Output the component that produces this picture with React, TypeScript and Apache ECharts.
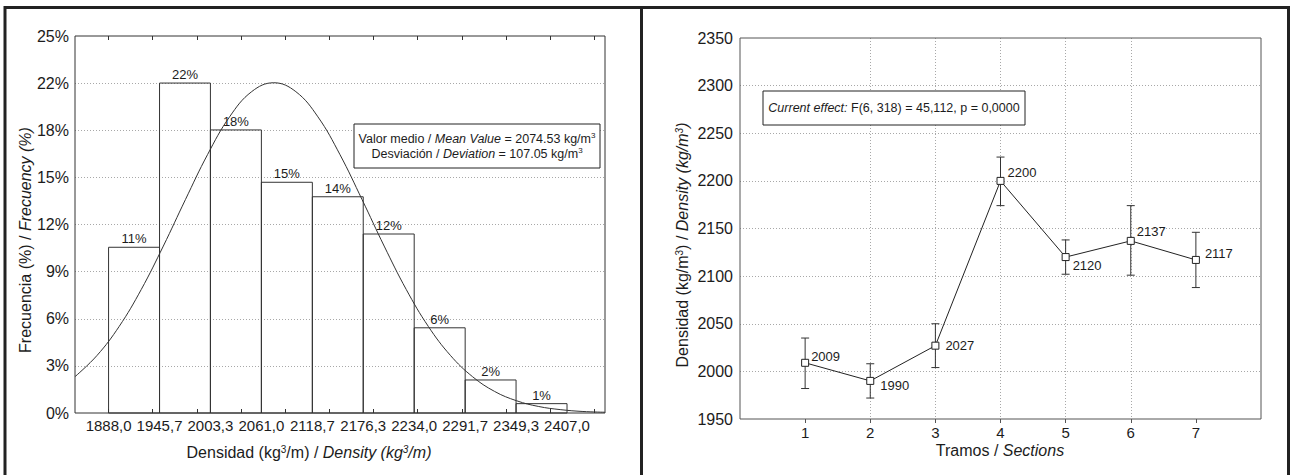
import React, { useEffect, useRef } from 'react';
import * as echarts from 'echarts';

// ---------- Left chart: histogram ----------
const BIN_EDGES = [1888.0, 1945.7, 2003.3, 2061.0, 2118.7, 2176.3, 2234.0, 2291.7, 2349.3, 2407.0];
const FREQ = [10.99, 21.88, 18.77, 15.3, 14.34, 11.87, 5.65, 2.19, 0.62];
const FREQ_LABELS = ['11%', '22%', '18%', '15%', '14%', '12%', '6%', '2%', '1%'];
const Y_TICK_LABELS = ['0%', '3%', '6%', '9%', '12%', '15%', '18%', '22%', '25%'];
const X_TICKS = [1888, 1938, 1988, 2038, 2088, 2138, 2188, 2238, 2288, 2338, 2388, 2438];
// fitted normal curve
const CURVE_X = [1850, 1875, 1900, 1925, 1950, 1975, 2000, 2025, 2050, 2075, 2100, 2125, 2150, 2175, 2200, 2225, 2250, 2275, 2300, 2325, 2350, 2375, 2400, 2425, 2450];
const CURVE_Y = [2.41, 3.82, 5.74, 8.19, 11.07, 14.15, 17.13, 19.64, 21.31, 21.9, 21.31, 19.64, 17.13, 14.15, 11.07, 8.19, 5.74, 3.82, 2.41, 1.43, 0.81, 0.43, 0.22, 0.1, 0.05];

// ---------- Right chart: means with error bars ----------
const SECTIONS = [1, 2, 3, 4, 5, 6, 7];
const MEANS = [2009, 1990, 2027, 2200, 2120, 2137, 2117];
const UPPER = [2035, 2008, 2050, 2225, 2138, 2174, 2146];
const LOWER = [1982, 1972, 2004, 2174, 2102, 2101, 2088];
const MEAN_LABELS = ['2009', '1990', '2027', '2200', '2120', '2137', '2117'];

// style-only: label nudges
const LABEL_NUDGE = [[0, -6], [4, 5], [4, 0], [1, -8], [1, 8], [0, -9], [3, -6]];

const FONT = "'Liberation Sans', Arial, Helvetica, sans-serif";
const TXT = '#1c1c1c';
const GRID_LINE = { type: [1, 2] as any, color: '#a8a8a8', width: 1 };

const G0 = { left: 75, top: 36, width: 530, height: 377 };
const G1 = { left: 740, top: 38, width: 521, height: 381 };

function rich(size: number) {
  return {
    i: { fontStyle: 'italic', fontSize: size, fontFamily: FONT, fill: TXT },
    s: { fontSize: Math.round(size * 0.62), verticalAlign: 'top', fontFamily: FONT, fill: TXT },
    is: { fontSize: Math.round(size * 0.62), fontStyle: 'italic', verticalAlign: 'top', fontFamily: FONT, fill: TXT },
    n: { fontSize: size, fontFamily: FONT, fill: TXT },
  };
}

function textEl(text: string, x: number, y: number, size: number, extra: any = {}) {
  return {
    type: 'text',
    x,
    y,
    z: 50,
    ...extra,
    style: {
      text,
      x: 0,
      y: 0,
      fontSize: size,
      fontFamily: FONT,
      fill: TXT,
      align: 'center',
      verticalAlign: 'middle',
      textAlign: 'center',
      textVerticalAlign: 'middle',
      rich: rich(size),
      ...(extra.style || {}),
    },
  };
}

function buildOption(): any {
  const fmtComma = (v: number) => v.toFixed(1).replace('.', ',');
  return {
    animation: false,
    backgroundColor: '#ffffff',
    textStyle: { fontFamily: FONT },
    grid: [
      { ...G0, show: false },
      { ...G1, show: false },
    ],
    xAxis: [
      {
        gridIndex: 0,
        type: 'value',
        min: 1850,
        max: 2450,
        axisLine: { show: false },
        splitLine: { show: false },
        axisTick: { show: true, inside: true, length: 4, customValues: X_TICKS, lineStyle: { color: '#333' } },
        axisLabel: { customValues: BIN_EDGES, formatter: fmtComma, margin: 5, fontSize: 15, color: TXT, fontFamily: FONT },
      },
      {
        gridIndex: 0,
        type: 'value',
        position: 'top',
        min: 1850,
        max: 2450,
        axisLine: { show: false },
        splitLine: { show: false },
        axisLabel: { show: false },
        axisTick: { show: true, inside: true, length: 4, customValues: X_TICKS, lineStyle: { color: '#333' } },
      },
      {
        gridIndex: 1,
        type: 'value',
        min: 0,
        max: 8,
        interval: 1,
        axisLine: { show: false },
        axisTick: { show: true, inside: false, length: 4, customValues: SECTIONS, lineStyle: { color: '#555' } },
        axisLabel: { customValues: SECTIONS, formatter: (v: number) => String(v), margin: 6, fontSize: 15, color: TXT, fontFamily: FONT },
        splitLine: { show: true, showMinLine: false, showMaxLine: false, lineStyle: GRID_LINE },
      },
    ],
    yAxis: [
      {
        gridIndex: 0,
        type: 'value',
        min: 0,
        max: 25,
        interval: 3.125,
        axisLine: { show: false },
        axisTick: { show: false },
        axisLabel: {
          formatter: (v: number) => Y_TICK_LABELS[Math.round(v / 3.125)] ?? '',
          margin: 6,
          fontSize: 16,
          color: TXT,
          fontFamily: FONT,
        },
        splitLine: { show: true, showMinLine: false, showMaxLine: false, lineStyle: GRID_LINE },
      },
      {
        gridIndex: 1,
        type: 'value',
        min: 1950,
        max: 2350,
        interval: 50,
        axisLine: { show: false },
        axisTick: { show: false },
        axisLabel: { formatter: (v: number) => String(v), margin: 7, fontSize: 16, color: TXT, fontFamily: FONT },
        splitLine: { show: true, showMinLine: false, showMaxLine: false, lineStyle: GRID_LINE },
      },
    ],
    series: [
      {
        type: 'custom',
        name: 'bars',
        xAxisIndex: 0,
        yAxisIndex: 0,
        z: 2,
        encode: { x: [0, 1], y: 2 },
        data: FREQ.map((f, i) => [BIN_EDGES[i], BIN_EDGES[i + 1], f, i]),
        renderItem: (params: any, api: any) => {
          const x0 = api.value(0);
          const x1 = api.value(1);
          const v = api.value(2);
          const i = api.value(3);
          const p0 = api.coord([x0, v]);
          const p1 = api.coord([x1, 0]);
          return {
            type: 'group',
            children: [
              {
                type: 'rect',
                shape: { x: p0[0], y: p0[1], width: p1[0] - p0[0], height: p1[1] - p0[1] },
                style: { fill: 'rgba(255,255,255,0)', stroke: '#333', lineWidth: 1 },
              },
              {
                type: 'text',
                style: {
                  text: FREQ_LABELS[i],
                  x: (p0[0] + p1[0]) / 2,
                  y: p0[1] - 2,
                  align: 'center',
                  verticalAlign: 'bottom',
                  textAlign: 'center',
                  textVerticalAlign: 'bottom',
                  fontSize: 13,
                  fontFamily: FONT,
                  fill: TXT,
                },
              },
            ],
          };
        },
      },
      {
        type: 'line',
        name: 'normal',
        xAxisIndex: 0,
        yAxisIndex: 0,
        z: 3,
        smooth: 0.4,
        showSymbol: false,
        symbol: 'none',
        lineStyle: { color: '#333', width: 1 },
        data: CURVE_X.map((x, i) => [x, CURVE_Y[i]]),
      },
      {
        type: 'custom',
        name: 'errors',
        xAxisIndex: 2,
        yAxisIndex: 1,
        z: 2,
        encode: { x: 0, y: [1, 2] },
        data: SECTIONS.map((s, i) => [s, LOWER[i], UPPER[i]]),
        renderItem: (params: any, api: any) => {
          const lo = api.coord([api.value(0), api.value(1)]);
          const hi = api.coord([api.value(0), api.value(2)]);
          const w = 4;
          const st = { stroke: '#333', lineWidth: 1 };
          return {
            type: 'group',
            children: [
              { type: 'line', shape: { x1: lo[0], y1: lo[1], x2: hi[0], y2: hi[1] }, style: st },
              { type: 'line', shape: { x1: lo[0] - w, y1: lo[1], x2: lo[0] + w, y2: lo[1] }, style: st },
              { type: 'line', shape: { x1: hi[0] - w, y1: hi[1], x2: hi[0] + w, y2: hi[1] }, style: st },
            ],
          };
        },
      },
      {
        type: 'line',
        name: 'means',
        xAxisIndex: 2,
        yAxisIndex: 1,
        z: 4,
        symbol: 'rect',
        symbolSize: 7,
        showSymbol: true,
        itemStyle: { color: '#ffffff', borderColor: '#222', borderWidth: 1 },
        lineStyle: { color: '#222', width: 1 },
        label: {
          show: true,
          position: 'right',
          distance: 2,
          fontSize: 13,
          color: TXT,
          fontFamily: FONT,
        },
        data: SECTIONS.map((s, i) => ({
          value: [s, MEANS[i]],
          label: { formatter: MEAN_LABELS[i], offset: LABEL_NUDGE[i] },
        })),
      },
    ],
    graphic: [
      // outer frame
      {
        type: 'rect',
        z: 100,
        shape: { x: 5, y: 7.5, width: 1283.5, height: 480 },
        style: { fill: 'none', stroke: '#222', lineWidth: 3 },
        silent: true,
      },
      {
        type: 'line',
        z: 100,
        shape: { x1: 641.5, y1: 7.5, x2: 641.5, y2: 476 },
        style: { stroke: '#222', lineWidth: 3 },
        silent: true,
      },
      // plot frames
      {
        type: 'rect',
        z: 90,
        shape: { x: G0.left, y: G0.top, width: G0.width, height: G0.height },
        style: { fill: 'none', stroke: '#333', lineWidth: 1 },
        silent: true,
      },
      {
        type: 'rect',
        z: 90,
        shape: { x: G1.left, y: G1.top, width: G1.width, height: G1.height },
        style: { fill: 'none', stroke: '#555', lineWidth: 1 },
        silent: true,
      },
      // left annotation box
      {
        type: 'rect',
        z: 40,
        shape: { x: 354, y: 124, width: 246, height: 44 },
        style: { fill: '#ffffff', stroke: '#222', lineWidth: 1 },
        silent: true,
      },
      textEl(
        '{n|Valor medio / }{i|Mean Value}{n| = 2074.53 kg/m}{s|3}\n{n|Desviación / }{i|Deviation}{n| = 107.05 kg/m}{s|3}',
        477,
        146,
        12.5,
        { style: { lineHeight: 15 } }
      ),
      // right annotation box
      {
        type: 'rect',
        z: 40,
        shape: { x: 763, y: 91, width: 262, height: 34 },
        style: { fill: '#ffffff', stroke: '#222', lineWidth: 1 },
        silent: true,
      },
      textEl('{i|Current effect:}{n| F(6, 318) = 45,112, p = 0,0000}', 894, 108, 12.5),
      // axis titles
      textEl('{n|Densidad (kg}{s|3}{n|/m) / }{i|Density (kg}{is|3}{i|/m)}', 309, 452, 16),
      textEl('{n|Frecuencia (%) / }{i|Frecuency (%)}', 25, 240, 16, { rotation: Math.PI / 2 }),
      textEl('{n|Tramos / }{i|Sections}', 1000, 450, 16),
      textEl('{n|Densidad (kg/m}{s|3}{n|) / }{i|Density (kg/m}{is|3}{i|)}', 682, 245, 16, { rotation: Math.PI / 2 }),
    ],
  };
}

export default function App() {
  const ref = useRef<HTMLDivElement>(null);
  useEffect(() => {
    if (!ref.current) return;
    const chart = echarts.init(ref.current, null, { renderer: 'svg' });
    chart.setOption(buildOption());
    return () => {
      chart.dispose();
    };
  }, []);
  return (
    <div style={{ position: 'fixed', left: 0, top: 0, width: 1290, height: 475, background: '#fff' }}>
      <div ref={ref} style={{ width: 1290, height: 475 }} />
    </div>
  );
}
